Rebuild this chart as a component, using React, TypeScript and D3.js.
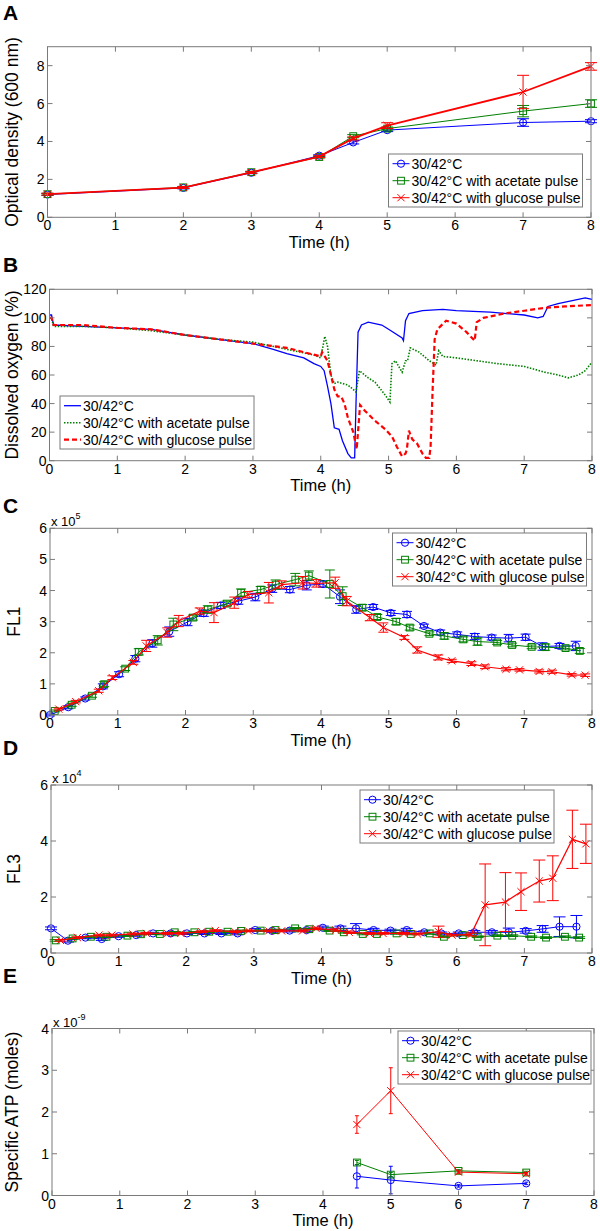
import * as d3 from 'd3';

const FONT = '"Liberation Sans", Arial, Helvetica, sans-serif';
const BLUE = '#0000ff';
const GREEN = '#008000';
const RED = '#ff0000';
const AXIS_GRAY = '#7a7a7a';

const LEGEND_LABELS = ['30/42°C', '30/42°C with acetate pulse', '30/42°C with glucose pulse'];
const X_TICKS = [0, 1, 2, 3, 4, 5, 6, 7, 8];

// A: optical density
const odTime = [0, 2, 3, 4, 4.5, 5, 7, 8];
const odBase = [1.2, 1.55, 2.35, 3.25, 3.95, 4.6, 5.0, 5.07];
const odBaseErr = [0.05, 0.05, 0.05, 0.05, 0.08, 0.08, 0.2, 0.08];
const odAcetate = [1.22, 1.58, 2.38, 3.18, 4.28, 4.68, 5.6, 6.0];
const odAcetateErr = [0.05, 0.05, 0.05, 0.05, 0.08, 0.08, 0.3, 0.2];
const odGlucose = [1.22, 1.57, 2.37, 3.2, 4.16, 4.84, 6.61, 7.96];
const odGlucoseErr = [0.05, 0.05, 0.05, 0.05, 0.08, 0.15, 0.88, 0.2];

// B: dissolved oxygen [time, %]
const doBase = [
  [0, 102], [0.03, 102], [0.06, 95], [0.5, 94], [1, 93], [1.5, 92], [2, 88], [2.5, 85], [3, 82],
  [3.3, 78], [3.5, 75], [3.75, 72], [3.9, 68], [4.0, 66], [4.05, 63], [4.1, 52], [4.15, 40],
  [4.2, 23], [4.27, 22], [4.32, 14], [4.4, 5], [4.45, 2], [4.5, 2], [4.52, 40], [4.55, 90],
  [4.6, 95], [4.7, 97], [4.9, 95], [5.0, 92], [5.2, 86], [5.22, 84], [5.25, 98], [5.3, 103],
  [5.5, 105], [5.8, 106], [6.0, 105], [6.5, 104], [7.0, 102], [7.2, 100], [7.28, 101],
  [7.35, 108], [7.5, 110], [7.9, 114], [8, 113],
];
const doAcetate = [
  [0, 100], [0.03, 100], [0.06, 94], [0.5, 94], [1, 93], [1.5, 91], [2, 88], [2.5, 85], [3, 83],
  [3.5, 78], [3.9, 74], [4.0, 72], [4.06, 87], [4.1, 80], [4.15, 60], [4.2, 54], [4.25, 55],
  [4.4, 53], [4.5, 49], [4.52, 48], [4.57, 63], [4.7, 58], [4.8, 55], [4.95, 46], [5.02, 41],
  [5.05, 68], [5.1, 70], [5.2, 62], [5.25, 70], [5.28, 70], [5.32, 79], [5.45, 76], [5.6, 70],
  [5.7, 67], [5.74, 77], [5.8, 73], [6.0, 72], [6.3, 70], [6.6, 68], [7.0, 66], [7.3, 62],
  [7.5, 60], [7.65, 58], [7.8, 60], [7.9, 63], [8, 69],
];
const doGlucose = [
  [0, 100], [0.03, 100], [0.06, 95], [0.5, 95], [1, 93], [1.5, 92], [2, 88], [2.5, 85], [3, 82],
  [3.5, 79], [3.75, 76], [4.0, 73], [4.02, 76], [4.1, 70], [4.15, 60], [4.2, 50], [4.25, 45],
  [4.3, 45], [4.35, 40], [4.4, 30], [4.48, 20], [4.53, 8], [4.58, 39], [4.65, 35], [4.8, 28],
  [4.95, 22], [5.05, 17], [5.12, 10], [5.2, 3], [5.25, 5], [5.27, 8], [5.3, 21], [5.35, 15],
  [5.42, 12], [5.5, 5], [5.55, 2], [5.6, 2], [5.62, 10], [5.65, 50], [5.68, 85], [5.72, 92],
  [5.85, 98], [6.0, 96], [6.15, 90], [6.27, 84], [6.3, 97], [6.4, 100], [6.7, 103], [7.0, 105],
  [7.3, 107], [7.6, 108], [8, 109],
];

// C: FL1 (x 10^5) [time, value, error]
const fl1Base = [
  [0, 0.0, 0.03], [0.27, 0.25, 0.05], [0.52, 0.53, 0.05], [0.78, 0.92, 0.08], [1.02, 1.31, 0.08],
  [1.26, 1.81, 0.1], [1.51, 2.3, 0.12], [1.76, 2.68, 0.15], [2.03, 2.99, 0.12], [2.27, 3.27, 0.1],
  [2.52, 3.52, 0.1], [2.78, 3.66, 0.1], [3.03, 3.79, 0.12], [3.28, 4.06, 0.12], [3.54, 4.03, 0.1],
  [3.79, 4.17, 0.15], [4.03, 4.21, 0.1], [4.28, 3.8, 0.22], [4.52, 3.39, 0.12], [4.77, 3.47, 0.08],
  [5.03, 3.28, 0.08], [5.27, 3.23, 0.1], [5.52, 2.86, 0.06], [5.76, 2.65, 0.08], [6.01, 2.59, 0.08],
  [6.27, 2.52, 0.1], [6.52, 2.49, 0.08], [6.77, 2.47, 0.12], [7.02, 2.5, 0.1], [7.27, 2.2, 0.12],
  [7.52, 2.22, 0.08], [7.76, 2.22, 0.15],
];
const fl1Acetate = [
  [0.07, 0.13, 0.03], [0.32, 0.33, 0.05], [0.62, 0.62, 0.05], [0.8, 0.99, 0.08], [1.11, 1.49, 0.06],
  [1.31, 2.03, 0.1], [1.59, 2.4, 0.15], [1.82, 2.91, 0.2], [2.11, 3.13, 0.08], [2.33, 3.39, 0.12],
  [2.61, 3.58, 0.08], [2.82, 3.93, 0.12], [3.11, 4.03, 0.1], [3.33, 4.19, 0.15], [3.62, 4.35, 0.2],
  [3.82, 4.48, 0.15], [4.13, 4.21, 0.45], [4.32, 3.82, 0.3], [4.61, 3.45, 0.1], [4.83, 3.15, 0.08],
  [5.11, 3.0, 0.1], [5.31, 2.81, 0.08], [5.6, 2.61, 0.06], [5.82, 2.54, 0.1], [6.1, 2.43, 0.08],
  [6.31, 2.36, 0.12], [6.6, 2.33, 0.06], [6.82, 2.25, 0.06], [7.11, 2.19, 0.06], [7.31, 2.18, 0.1],
  [7.61, 2.15, 0.06], [7.82, 2.06, 0.08],
];
const fl1Glucose = [
  [0.13, 0.19, 0.03], [0.38, 0.43, 0.04], [0.72, 0.78, 0.05], [0.92, 1.2, 0.06], [1.23, 1.69, 0.06],
  [1.42, 2.22, 0.18], [1.73, 2.65, 0.15], [1.9, 3.02, 0.18], [2.21, 3.34, 0.1], [2.42, 3.29, 0.32],
  [2.72, 3.61, 0.18], [2.92, 3.87, 0.1], [3.23, 3.93, 0.33], [3.42, 4.19, 0.12], [3.73, 4.25, 0.2],
  [3.93, 4.23, 0.12], [4.21, 4.25, 0.18], [4.38, 3.66, 0.15], [4.72, 3.13, 0.1], [4.92, 2.81, 0.15],
  [5.23, 2.49, 0.06], [5.42, 2.09, 0.1], [5.73, 1.85, 0.08], [5.93, 1.74, 0.05], [6.22, 1.65, 0.06],
  [6.42, 1.55, 0.06], [6.73, 1.47, 0.05], [6.93, 1.45, 0.04], [7.22, 1.4, 0.05], [7.41, 1.39, 0.05],
  [7.7, 1.29, 0.04], [7.9, 1.28, 0.04],
];

// D: FL3 (x 10^4) [time, value, error]
const fl3Base = [
  [0, 0.88, 0.05], [0.25, 0.44, 0.05], [0.51, 0.55, 0.04], [0.75, 0.5, 0.05], [1.0, 0.6, 0.04],
  [1.26, 0.64, 0.04], [1.51, 0.7, 0.04], [1.77, 0.7, 0.05], [2.01, 0.7, 0.04], [2.27, 0.7, 0.04],
  [2.52, 0.7, 0.04], [2.76, 0.7, 0.05], [3.02, 0.82, 0.05], [3.27, 0.79, 0.05], [3.53, 0.8, 0.05],
  [3.78, 0.82, 0.06], [4.02, 0.9, 0.06], [4.28, 0.88, 0.08], [4.51, 0.88, 0.17], [4.77, 0.82, 0.06],
  [5.02, 0.8, 0.05], [5.26, 0.82, 0.06], [5.52, 0.74, 0.05], [5.77, 0.7, 0.05], [6.03, 0.7, 0.05],
  [6.26, 0.74, 0.06], [6.52, 0.74, 0.06], [6.77, 0.74, 0.15], [7.02, 0.79, 0.08], [7.27, 0.86, 0.12],
  [7.52, 0.94, 0.35], [7.77, 0.94, 0.4],
];
const fl3Acetate = [
  [0.07, 0.45, 0.03], [0.32, 0.52, 0.03], [0.59, 0.58, 0.03], [0.82, 0.58, 0.03], [1.13, 0.62, 0.03],
  [1.33, 0.67, 0.03], [1.61, 0.68, 0.03], [1.83, 0.74, 0.03], [2.12, 0.74, 0.03], [2.34, 0.76, 0.03],
  [2.61, 0.76, 0.03], [2.81, 0.79, 0.03], [3.1, 0.8, 0.03], [3.32, 0.82, 0.03], [3.61, 0.88, 0.03],
  [3.82, 0.85, 0.03], [4.12, 0.8, 0.03], [4.33, 0.74, 0.03], [4.61, 0.68, 0.03], [4.82, 0.68, 0.03],
  [5.11, 0.7, 0.03], [5.32, 0.68, 0.03], [5.6, 0.7, 0.03], [5.81, 0.58, 0.03], [6.09, 0.64, 0.03],
  [6.31, 0.58, 0.03], [6.6, 0.62, 0.03], [6.82, 0.62, 0.03], [7.1, 0.58, 0.03], [7.32, 0.55, 0.03],
  [7.6, 0.58, 0.03], [7.81, 0.55, 0.03],
];
const fl3Glucose = [
  [0.14, 0.45, 0.03], [0.39, 0.55, 0.03], [0.71, 0.64, 0.03], [0.9, 0.64, 0.03], [1.21, 0.68, 0.03],
  [1.41, 0.7, 0.03], [1.72, 0.7, 0.03], [1.92, 0.7, 0.03], [2.23, 0.76, 0.03], [2.43, 0.8, 0.03],
  [2.72, 0.76, 0.03], [2.92, 0.79, 0.03], [3.22, 0.79, 0.03], [3.41, 0.79, 0.03], [3.72, 0.79, 0.03],
  [3.92, 0.88, 0.04], [4.21, 0.82, 0.04], [4.41, 0.74, 0.04], [4.71, 0.7, 0.03], [4.91, 0.7, 0.03],
  [5.22, 0.7, 0.03], [5.42, 0.68, 0.03], [5.73, 0.76, 0.2], [5.93, 0.64, 0.03], [6.21, 0.66, 0.05],
  [6.42, 1.72, 1.46], [6.72, 1.82, 1.05], [6.95, 2.19, 0.67], [7.22, 2.57, 0.75], [7.42, 2.67, 0.8],
  [7.71, 4.06, 1.04], [7.91, 3.9, 0.7],
];

// E: specific ATP (x 10^-9)
const atpTime = [4.5, 5, 6, 7];
const atpBase = [0.46, 0.37, 0.23, 0.29];
const atpBaseErr = [0.28, 0.33, 0.03, 0.03];
const atpAcetate = [0.79, 0.5, 0.59, 0.55];
const atpAcetateErr = [0.05, 0.05, 0.03, 0.03];
const atpGlucose = [1.7, 2.51, 0.56, 0.52];
const atpGlucoseErr = [0.21, 0.55, 0.03, 0.03];

type Pt = number[];
type MarkerKind = 'o' | 's' | 'x' | null;
type Series = { pts: Pt[]; color: string; marker: MarkerKind; width: number; dash?: string };

const zip = (t: number[], v: number[], e: number[]) => t.map((tt, i) => [tt, v[i], e[i]]);

function Marker({ kind, cx, cy, color }: { kind: MarkerKind; cx: number; cy: number; color: string }) {
  if (kind === 'o') return <circle cx={cx} cy={cy} r={3.6} fill="none" stroke={color} strokeWidth={1} />;
  if (kind === 's')
    return <rect x={cx - 3.4} y={cy - 3.4} width={6.8} height={6.8} fill="none" stroke={color} strokeWidth={1} />;
  if (kind === 'x')
    return (
      <path
        d={`M${cx - 3.6},${cy - 3.6}L${cx + 3.6},${cy + 3.6}M${cx - 3.6},${cy + 3.6}L${cx + 3.6},${cy - 3.6}`}
        stroke={color}
        strokeWidth={1}
      />
    );
  return null;
}

type PanelProps = {
  letter: string;
  letterY: number;
  left: number;
  right: number;
  top: number;
  bottom: number;
  yMax: number;
  yTicks: number[];
  yLabel: string;
  yLabelX: number;
  exponent?: string;
  legend: { x: number; y: number; w: number };
  legendLines?: boolean;
  series: Series[];
  capW: number;
};

function Panel(p: PanelProps) {
  const x = d3.scaleLinear().domain([0, 8]).range([p.left, p.right]);
  const y = d3.scaleLinear().domain([0, p.yMax]).range([p.bottom, p.top]);
  const line = d3
    .line<Pt>()
    .x((d) => x(d[0]))
    .y((d) => y(d[1]));
  const tk = 5;
  const lh = 53;
  return (
    <g fontFamily={FONT}>
      <text x={3} y={p.letterY} fontSize={21} fontWeight="bold">
        {p.letter}
      </text>
      <rect x={p.left} y={p.top} width={p.right - p.left} height={p.bottom - p.top} fill="#fff" stroke="none" />
      {/* series */}
      {p.series.map((s, si) => (
        <g key={si}>
          <path d={line(s.pts) ?? ''} fill="none" stroke={s.color} strokeWidth={s.width} strokeDasharray={s.dash} />
          {s.pts.map((d, i) =>
            d[2] !== undefined ? (
              <g key={i} stroke={s.color} strokeWidth={1}>
                <line x1={x(d[0])} x2={x(d[0])} y1={y(d[1] - d[2])} y2={y(d[1] + d[2])} />
                <line x1={x(d[0]) - p.capW / 2} x2={x(d[0]) + p.capW / 2} y1={y(d[1] - d[2])} y2={y(d[1] - d[2])} />
                <line x1={x(d[0]) - p.capW / 2} x2={x(d[0]) + p.capW / 2} y1={y(d[1] + d[2])} y2={y(d[1] + d[2])} />
              </g>
            ) : null,
          )}
          {s.marker && s.pts.map((d, i) => <Marker key={i} kind={s.marker} cx={x(d[0])} cy={y(d[1])} color={s.color} />)}
        </g>
      ))}
      {/* axes box and ticks */}
      <rect
        x={p.left}
        y={p.top}
        width={p.right - p.left}
        height={p.bottom - p.top}
        fill="none"
        stroke={AXIS_GRAY}
        strokeWidth={1}
      />
      {X_TICKS.map((t) => (
        <g key={'x' + t}>
          <line x1={x(t)} x2={x(t)} y1={p.bottom} y2={p.bottom - tk} stroke={AXIS_GRAY} />
          <line x1={x(t)} x2={x(t)} y1={p.top} y2={p.top + tk} stroke={AXIS_GRAY} />
          <text x={x(t)} y={p.bottom + 13} fontSize={14} textAnchor="middle">
            {t}
          </text>
        </g>
      ))}
      {p.yTicks.map((t) => (
        <g key={'y' + t}>
          <line x1={p.left} x2={p.left + tk} y1={y(t)} y2={y(t)} stroke={AXIS_GRAY} />
          <line x1={p.right} x2={p.right - tk} y1={y(t)} y2={y(t)} stroke={AXIS_GRAY} />
          <text x={p.left - 3} y={y(t) + 5} fontSize={14} textAnchor="end">
            {t}
          </text>
        </g>
      ))}
      {p.exponent && (
        <text x={p.left + 1} y={p.top - 2} fontSize={13}>
          x 10
          <tspan dy={-7} fontSize={9}>
            {p.exponent}
          </tspan>
        </text>
      )}
      <text x={(p.left + p.right) / 2} y={p.bottom + 30.5} fontSize={16.5} textAnchor="middle">
        Time (h)
      </text>
      <text
        transform={`translate(${p.yLabelX},${(p.top + p.bottom) / 2}) rotate(-90)`}
        fontSize={17.5}
        textAnchor="middle"
      >
        {p.yLabel}
      </text>
      {/* legend */}
      <g transform={`translate(${p.legend.x},${p.legend.y})`}>
        <rect x={0} y={0} width={p.legend.w} height={lh} fill="#fff" stroke={AXIS_GRAY} strokeWidth={1} />
        {p.series.map((s, i) => {
          const cy = 9.7 + i * 17;
          return (
            <g key={i}>
              <line
                x1={4}
                x2={21}
                y1={cy}
                y2={cy}
                stroke={s.color}
                strokeWidth={p.legendLines ? s.width : 1}
                strokeDasharray={s.dash}
              />
              {s.marker && <Marker kind={s.marker} cx={12.5} cy={cy} color={s.color} />}
              <text x={23} y={cy + 5} fontSize={14}>
                {LEGEND_LABELS[i]}
              </text>
            </g>
          );
        })}
      </g>
    </g>
  );
}

export default function App() {
  return (
    <svg
      width={600}
      height={1231}
      style={{ position: 'absolute', left: 0, top: 0, display: 'block', background: '#fff' }}
    >
      <rect width={600} height={1231} fill="#fff" />
      <Panel
        letter="A"
        letterY={20}
        left={47.5}
        right={591}
        top={46.7}
        bottom={217.3}
        yMax={9}
        yTicks={[0, 2, 4, 6, 8]}
        yLabel="Optical density (600 nm)"
        yLabelX={18}
        legend={{ x: 388.5, y: 154, w: 194 }}
        capW={12}
        series={[
          { pts: zip(odTime, odBase, odBaseErr), color: BLUE, marker: 'o', width: 1 },
          { pts: zip(odTime, odAcetate, odAcetateErr), color: GREEN, marker: 's', width: 1 },
          { pts: zip(odTime, odGlucose, odGlucoseErr), color: RED, marker: 'x', width: 1.8 },
        ]}
      />
      <Panel
        letter="B"
        letterY={272}
        left={49.5}
        right={592}
        top={289.3}
        bottom={460.7}
        yMax={120}
        yTicks={[0, 20, 40, 60, 80, 100, 120]}
        yLabel="Dissolved oxygen (%)"
        yLabelX={18}
        legend={{ x: 60, y: 396, w: 194 }}
        legendLines
        capW={0}
        series={[
          { pts: doBase, color: BLUE, marker: null, width: 1.3 },
          { pts: doAcetate, color: GREEN, marker: null, width: 1.6, dash: '1.5,1.5' },
          { pts: doGlucose, color: RED, marker: null, width: 2.2, dash: '5,3' },
        ]}
      />
      <Panel
        letter="C"
        letterY={513}
        left={50}
        right={592}
        top={528.3}
        bottom={715}
        yMax={6}
        yTicks={[0, 1, 2, 3, 4, 5, 6]}
        yLabel="FL1"
        yLabelX={20}
        exponent="5"
        legend={{ x: 392.5, y: 533, w: 194 }}
        capW={10}
        series={[
          { pts: fl1Base, color: BLUE, marker: 'o', width: 1 },
          { pts: fl1Acetate, color: GREEN, marker: 's', width: 1 },
          { pts: fl1Glucose, color: RED, marker: 'x', width: 1.2 },
        ]}
      />
      <Panel
        letter="D"
        letterY={755}
        left={51}
        right={592}
        top={785}
        bottom={953}
        yMax={6}
        yTicks={[0, 2, 4, 6]}
        yLabel="FL3"
        yLabelX={20}
        exponent="4"
        legend={{ x: 360, y: 790, w: 194 }}
        capW={12}
        series={[
          { pts: fl3Base, color: BLUE, marker: 'o', width: 1 },
          { pts: fl3Acetate, color: GREEN, marker: 's', width: 1 },
          { pts: fl3Glucose, color: RED, marker: 'x', width: 1.3 },
        ]}
      />
      <Panel
        letter="E"
        letterY={983}
        left={52}
        right={594}
        top={1028.5}
        bottom={1195.5}
        yMax={4}
        yTicks={[0, 1, 2, 3, 4]}
        yLabel="Specific ATP (moles)"
        yLabelX={18}
        exponent="-9"
        legend={{ x: 398, y: 1031, w: 193 }}
        capW={4}
        series={[
          { pts: zip(atpTime, atpBase, atpBaseErr), color: BLUE, marker: 'o', width: 1 },
          { pts: zip(atpTime, atpAcetate, atpAcetateErr), color: GREEN, marker: 's', width: 1 },
          { pts: zip(atpTime, atpGlucose, atpGlucoseErr), color: RED, marker: 'x', width: 1 },
        ]}
      />
    </svg>
  );
}
